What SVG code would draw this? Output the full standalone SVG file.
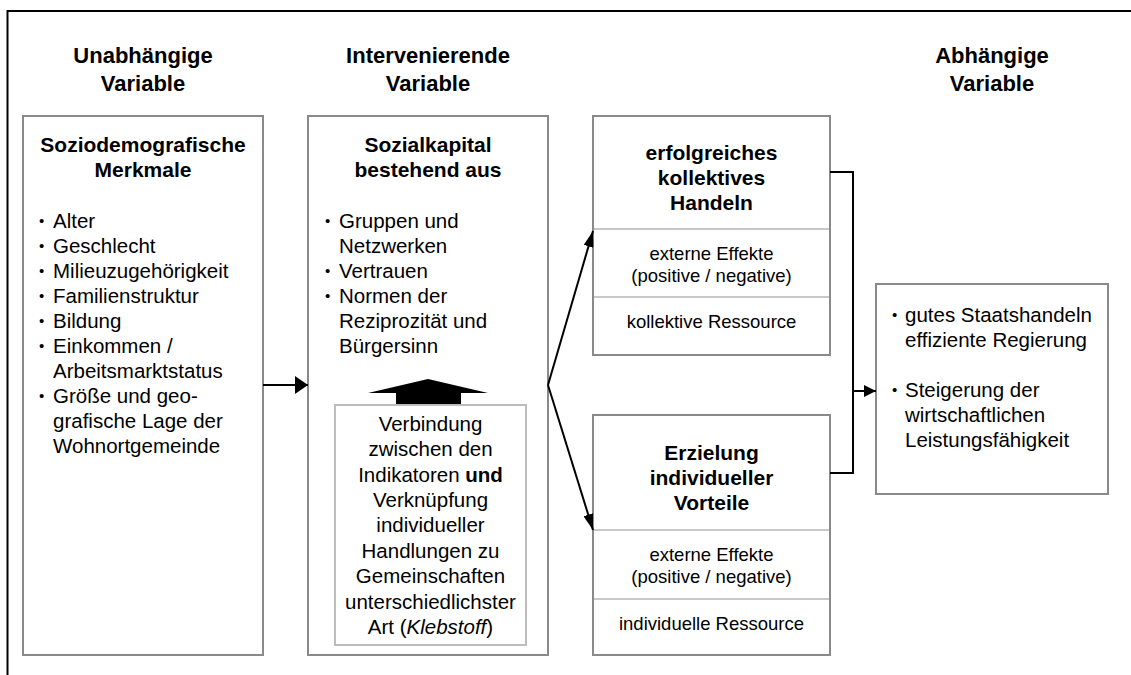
<svg xmlns="http://www.w3.org/2000/svg" width="1131" height="675" viewBox="0 0 1131 675">
<style>
text{font-family:"Liberation Sans",Arial,Helvetica,sans-serif;fill:#000}
.h{font-size:22px;font-weight:bold;text-anchor:middle}
.bt{font-size:21px;font-weight:bold;text-anchor:middle}
.t{font-size:20.5px}
.b{font-size:15px}
.c{font-size:20.5px;text-anchor:middle}
.s{font-size:18.5px;text-anchor:middle}
.box{fill:#fff;stroke:#8a8a8a;stroke-width:2}
.inner{fill:#fff;stroke:#bdbdbd;stroke-width:2}
.div{stroke:#c8c8c8;stroke-width:2}
.con{fill:none;stroke:#000;stroke-width:2}
</style>
<defs>
<marker id="ahBig" viewBox="0 0 13 18" refX="13" refY="9" markerWidth="13" markerHeight="18" markerUnits="userSpaceOnUse" orient="auto"><path d="M0,0 L13,9 L0,18 z" fill="#000"/></marker>
<marker id="ahSmall" viewBox="0 0 12 12" refX="12" refY="6" markerWidth="12" markerHeight="12" markerUnits="userSpaceOnUse" orient="auto"><path d="M0,0 L12,6 L0,12 z" fill="#000"/></marker>
<marker id="ahThin" viewBox="0 0 16 10" refX="16" refY="5" markerWidth="16" markerHeight="10" markerUnits="userSpaceOnUse" orient="auto"><path d="M0,0 L16,5 L0,10 z" fill="#000"/></marker>
</defs>

<g id="frame">
<line x1="7.5" y1="11" x2="1131" y2="11" stroke="#000" stroke-width="2"/>
<line x1="7.5" y1="10" x2="7.5" y2="675" stroke="#000" stroke-width="2"/>
</g>

<g id="headers">
<text class="h" x="143" y="63">Unabhängige</text>
<text class="h" x="143" y="91">Variable</text>
<text class="h" x="428" y="63">Intervenierende</text>
<text class="h" x="428" y="91">Variable</text>
<text class="h" x="992" y="63">Abhängige</text>
<text class="h" x="992" y="91">Variable</text>
</g>

<g id="node-sozio">
<rect class="box" x="23" y="116" width="240" height="539"/>
<text class="bt" x="143" y="152">Soziodemografische</text>
<text class="bt" x="143" y="177">Merkmale</text>
<text class="b" x="39" y="226">•</text><text class="t" x="53" y="228">Alter</text>
<text class="b" x="39" y="251">•</text><text class="t" x="53" y="253">Geschlecht</text>
<text class="b" x="39" y="276">•</text><text class="t" x="53" y="278">Milieuzugehörigkeit</text>
<text class="b" x="39" y="301">•</text><text class="t" x="53" y="303">Familienstruktur</text>
<text class="b" x="39" y="326">•</text><text class="t" x="53" y="328">Bildung</text>
<text class="b" x="39" y="351">•</text><text class="t" x="53" y="353">Einkommen /</text>
<text class="t" x="53" y="378">Arbeitsmarktstatus</text>
<text class="b" x="39" y="401">•</text><text class="t" x="53" y="403">Größe und geo-</text>
<text class="t" x="53" y="428">grafische Lage der</text>
<text class="t" x="53" y="453">Wohnortgemeinde</text>
</g>

<g id="node-sozialkapital">
<rect class="box" x="308" y="116" width="240" height="539"/>
<text class="bt" x="428" y="152">Sozialkapital</text>
<text class="bt" x="428" y="177">bestehend aus</text>
<text class="b" x="325" y="226">•</text><text class="t" x="339" y="228">Gruppen und</text>
<text class="t" x="339" y="253">Netzwerken</text>
<text class="b" x="325" y="276">•</text><text class="t" x="339" y="278">Vertrauen</text>
<text class="b" x="325" y="301">•</text><text class="t" x="339" y="303">Normen der</text>
<text class="t" x="339" y="328">Reziprozität und</text>
<text class="t" x="339" y="353">Bürgersinn</text>
<polygon points="428,379 488,393 461,393 461,405 396,405 396,393 368,393" fill="#000"/>
</g>

<g id="node-klebstoff">
<rect class="inner" x="335" y="405" width="191" height="240"/>
<text class="c" x="430.5" y="431">Verbindung</text>
<text class="c" x="430.5" y="456">zwischen den</text>
<text class="c" x="430.5" y="482">Indikatoren <tspan font-weight="bold">und</tspan></text>
<text class="c" x="430.5" y="507">Verknüpfung</text>
<text class="c" x="430.5" y="532">individueller</text>
<text class="c" x="430.5" y="558">Handlungen zu</text>
<text class="c" x="430.5" y="583">Gemeinschaften</text>
<text class="c" x="430.5" y="609">unterschiedlichster</text>
<text class="c" x="430.5" y="634">Art (<tspan font-style="italic">Klebstoff</tspan>)</text>
</g>

<g id="node-kollektiv">
<rect class="box" x="593" y="116" width="237" height="239"/>
<line class="div" x1="594" y1="229" x2="829" y2="229"/>
<line class="div" x1="594" y1="297" x2="829" y2="297"/>
<text class="bt" x="711.5" y="160">erfolgreiches</text>
<text class="bt" x="711.5" y="185">kollektives</text>
<text class="bt" x="711.5" y="210">Handeln</text>
<text class="s" x="711.5" y="260">externe Effekte</text>
<text class="s" x="711.5" y="282">(positive / negative)</text>
<text class="s" x="711.5" y="328">kollektive Ressource</text>
</g>

<g id="node-individuell">
<rect class="box" x="593" y="415" width="237" height="240"/>
<line class="div" x1="594" y1="530" x2="829" y2="530"/>
<line class="div" x1="594" y1="599" x2="829" y2="599"/>
<text class="bt" x="711.5" y="460">Erzielung</text>
<text class="bt" x="711.5" y="485">individueller</text>
<text class="bt" x="711.5" y="510">Vorteile</text>
<text class="s" x="711.5" y="561">externe Effekte</text>
<text class="s" x="711.5" y="583">(positive / negative)</text>
<text class="s" x="711.5" y="630">individuelle Ressource</text>
</g>

<g id="node-abhaengig">
<rect class="box" x="876" y="284" width="232" height="210"/>
<text class="b" x="892" y="320">•</text><text class="t" x="905" y="322">gutes Staatshandeln</text>
<text class="t" x="905" y="347">effiziente Regierung</text>
<text class="b" x="892" y="395">•</text><text class="t" x="905" y="397">Steigerung der</text>
<text class="t" x="905" y="422">wirtschaftlichen</text>
<text class="t" x="905" y="447">Leistungsfähigkeit</text>
</g>

<g id="connectors">
<line class="con" x1="263" y1="385" x2="308" y2="385" marker-end="url(#ahBig)"/>
<line class="con" x1="548" y1="385" x2="593" y2="231" marker-end="url(#ahThin)"/>
<line class="con" x1="548" y1="385" x2="593" y2="530" marker-end="url(#ahThin)"/>
<polyline class="con" points="830,172 853,172 853,473 830,473"/>
<line class="con" x1="853" y1="391" x2="876" y2="391" marker-end="url(#ahSmall)"/>
</g>
</svg>
